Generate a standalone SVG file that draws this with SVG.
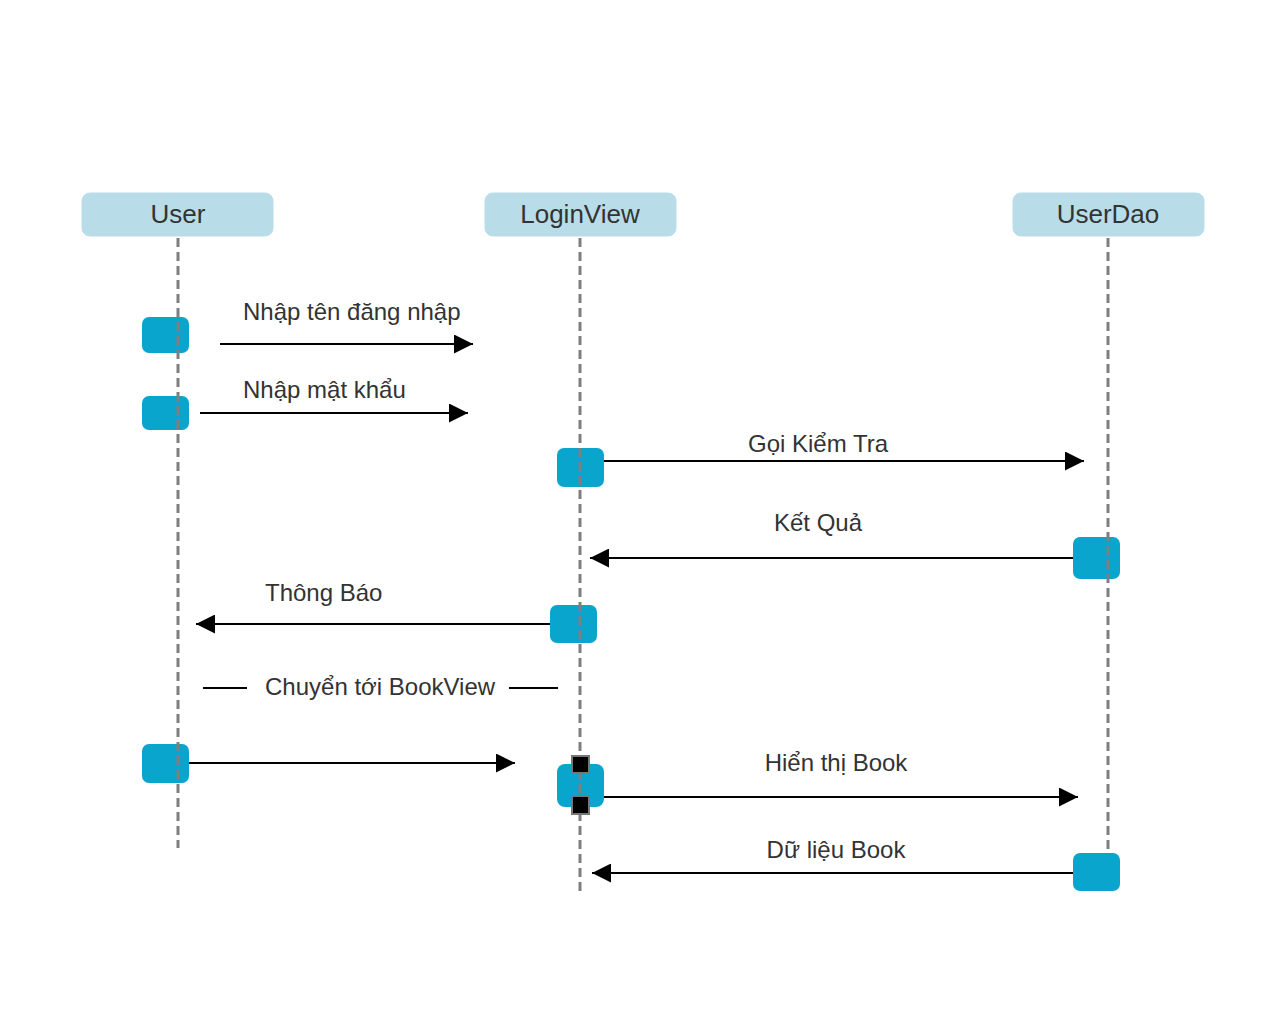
<svg xmlns="http://www.w3.org/2000/svg" width="1274" height="1016" viewBox="0 0 1274 1016">
<style>
.hdr{fill:#b8dde8;stroke:#b8dde8;}
.hdrt{font-family:"Liberation Sans",Arial,sans-serif;font-size:26px;fill:#333;text-anchor:middle;}
.life{stroke:#7f7f7f;stroke-width:3;stroke-dasharray:9,5;fill:none;}
.act{fill:#0aa5cc;}
.msg{stroke:#000;stroke-width:2;fill:none;}
.lbl{font-family:"Liberation Sans",Arial,sans-serif;font-size:24px;fill:#333;}
.mid{text-anchor:middle;}
.sq{fill:#000;stroke:#777;stroke-width:2;}
</style>
<defs>
<marker id="ah" viewBox="0 0 19 19" refX="19" refY="9.5" markerWidth="19" markerHeight="19" markerUnits="userSpaceOnUse" orient="auto">
<path d="M0,0 L19,9.5 L0,19 Z" fill="#000"/>
</marker>
</defs>
<rect width="1274" height="1016" fill="#fff"/>
<g id="act-user-1"><rect class="act" x="142" y="317" width="47" height="36" rx="7"/></g>
<g id="act-user-2"><rect class="act" x="142" y="396" width="47" height="34" rx="7"/></g>
<g id="act-login-1"><rect class="act" x="557" y="448" width="47" height="39" rx="7"/></g>
<g id="act-dao-1"><rect class="act" x="1073" y="537" width="47" height="42" rx="7"/></g>
<g id="act-login-2"><rect class="act" x="550" y="605" width="47" height="38" rx="7"/></g>
<g id="act-user-3"><rect class="act" x="142" y="744" width="47" height="39" rx="7"/></g>
<g id="act-login-3"><rect class="act" x="557" y="764" width="47" height="43" rx="8"/></g>
<g id="act-dao-2"><rect class="act" x="1073" y="853" width="47" height="38" rx="7"/></g>
<g id="user">
<rect class="hdr" x="82" y="193" width="191" height="43" rx="8"/>
<text class="hdrt" x="178" y="223">User</text>
<line class="life" x1="178" y1="238" x2="178" y2="848"/>
</g>
<g id="loginview">
<rect class="hdr" x="485" y="193" width="191" height="43" rx="8"/>
<text class="hdrt" x="580" y="223">LoginView</text>
<line class="life" x1="580" y1="238" x2="580" y2="892"/>
</g>
<g id="userdao">
<rect class="hdr" x="1013" y="193" width="191" height="43" rx="8"/>
<text class="hdrt" x="1108" y="223">UserDao</text>
<line class="life" x1="1108" y1="238" x2="1108" y2="852"/>
</g>
<g id="handles">
<rect class="sq" x="572" y="756" width="17" height="17"/>
<rect class="sq" x="572" y="796" width="17" height="18"/>
</g>
<g id="connectors">
<line class="msg" x1="220" y1="344" x2="473" y2="344" marker-end="url(#ah)"/>
<line class="msg" x1="200" y1="413" x2="468" y2="413" marker-end="url(#ah)"/>
<line class="msg" x1="604" y1="461" x2="1084" y2="461" marker-end="url(#ah)"/>
<line class="msg" x1="1073" y1="558" x2="590" y2="558" marker-end="url(#ah)"/>
<line class="msg" x1="550" y1="624" x2="196" y2="624" marker-end="url(#ah)"/>
<line class="msg" x1="203" y1="688" x2="247" y2="688"/>
<line class="msg" x1="509" y1="688" x2="558" y2="688"/>
<line class="msg" x1="189" y1="763" x2="515" y2="763" marker-end="url(#ah)"/>
<line class="msg" x1="604" y1="797" x2="1078" y2="797" marker-end="url(#ah)"/>
<line class="msg" x1="1073" y1="873" x2="592" y2="873" marker-end="url(#ah)"/>
</g>
<g id="labels">
<text class="lbl" x="243" y="320">Nhập tên đăng nhập</text>
<text class="lbl" x="243" y="398">Nhập mật khẩu</text>
<text class="lbl mid" x="818" y="452">Gọi Kiểm Tra</text>
<text class="lbl mid" x="818" y="531">Kết Quả</text>
<text class="lbl" x="265" y="601">Thông Báo</text>
<text class="lbl" x="265" y="695">Chuyển tới BookView</text>
<text class="lbl mid" x="836" y="771">Hiển thị Book</text>
<text class="lbl mid" x="836" y="858">Dữ liệu Book</text>
</g>
</svg>
